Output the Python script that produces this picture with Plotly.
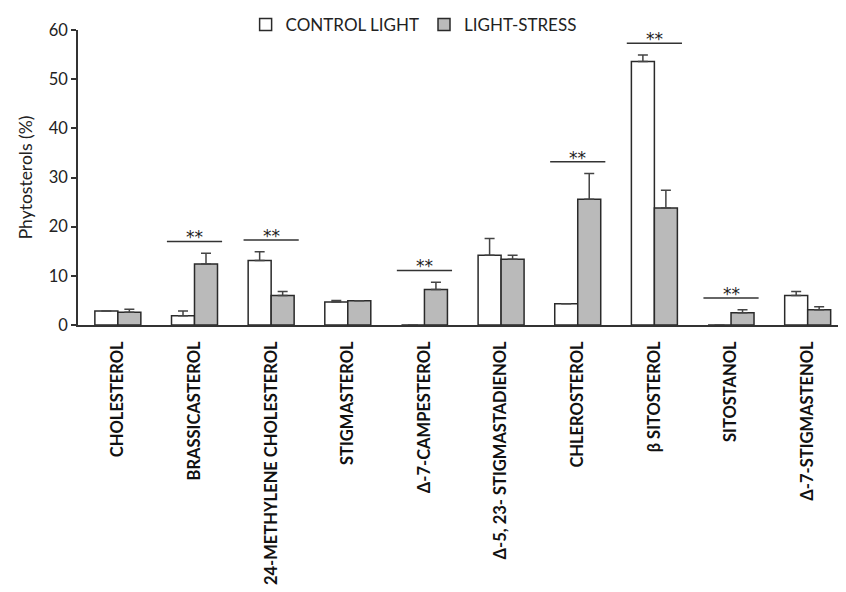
import plotly.graph_objects as go

categories = ["CHOLESTEROL", "BRASSICASTEROL", "24-METHYLENE CHOLESTEROL", "STIGMASTEROL",
              "Δ-7-CAMPESTEROL", "Δ-5, 23- STIGMASTADIENOL", "CHLEROSTEROL", "β SITOSTEROL",
              "SITOSTANOL", "Δ-7-STIGMASTENOL"]
control = [2.85, 1.9, 13.1, 4.7, 0.0, 14.2, 4.3, 53.6, 0.0, 6.0]
control_err = [0.0, 0.95, 1.8, 0.3, 0.0, 3.4, 0.0, 1.3, 0.0, 0.8]
stress = [2.6, 12.4, 6.0, 4.95, 7.2, 13.35, 25.6, 23.8, 2.5, 3.1]
stress_err = [0.6, 2.2, 0.8, 0.0, 1.5, 0.85, 5.2, 3.6, 0.6, 0.6]
significant = [False, True, True, False, True, False, True, True, True, False]
y_ticks = [0, 10, 20, 30, 40, 50, 60]

FONT = "Lato, 'Open Sans', sans-serif"
EDGE = "#2a2a2a"
W, H = 838, 584  # page body adds an 8px offset

fig = go.Figure()
fig.add_trace(go.Bar(
    x=categories, y=control, name="CONTROL LIGHT",
    marker=dict(color="white", line=dict(color=EDGE, width=1.5)),
    error_y=dict(type="data", array=control_err, symmetric=False, arrayminus=[0]*len(control),
                 color="#444", thickness=1.5, width=5),
))
fig.add_trace(go.Bar(
    x=categories, y=stress, name="LIGHT-STRESS",
    marker=dict(color="#bababa", line=dict(color=EDGE, width=1.5)),
    error_y=dict(type="data", array=stress_err, symmetric=False, arrayminus=[0]*len(stress),
                 color="#444", thickness=1.5, width=5),
))

shapes = []
annotations = []
for i, sig in enumerate(significant):
    if not sig:
        continue
    top = max(control[i] + control_err[i], stress[i] + stress_err[i]) + 2.4
    shapes.append(dict(type="line", xref="x", yref="y", x0=i - 0.36, x1=i + 0.36,
                       y0=top, y1=top, line=dict(color="#333", width=1.5)))
    annotations.append(dict(x=i, y=top, xref="x", yref="y", text="**", showarrow=False,
                            yanchor="middle", yshift=4,
                            font=dict(family="DejaVu Sans", size=17, color="#222")))

fig.update_layout(
    width=W, height=H,
    paper_bgcolor="white", plot_bgcolor="white",
    margin=dict(l=70, r=0, t=22, b=267, autoexpand=False),
    barmode="group", bargap=0.4, bargroupgap=0,
    font=dict(family=FONT, color="#222"),
    showlegend=True,
    legend=dict(orientation="h", x=0.437, xanchor="center", yref="container",
                y=1 - 17 / H, yanchor="middle",
                font=dict(family=FONT, size=17, color="#222"), bgcolor="rgba(0,0,0,0)"),
    shapes=shapes, annotations=annotations,
)
fig.update_xaxes(
    type="category", categoryorder="array", categoryarray=categories,
    range=[-0.52, 9.5], showline=True, linecolor="#333", linewidth=1.5,
    ticks="", tickangle=-90, ticklabelstandoff=8, automargin=False,
    tickfont=dict(family=FONT, size=16.5, color="#111", weight="bold"),
    showgrid=False, zeroline=False,
)
fig.update_yaxes(
    range=[0, 60], tickvals=y_ticks, showline=True, linecolor="#333", linewidth=1.5,
    ticks="outside", ticklen=5, tickcolor="#333", tickwidth=1.5, automargin=False,
    tickfont=dict(family=FONT, size=16.5, color="#222"),
    title=dict(text="Phytosterols (%)", font=dict(family=FONT, size=17.5, color="#222"), standoff=12),
    showgrid=False, zeroline=False,
)

fig.write_html("out.html")
